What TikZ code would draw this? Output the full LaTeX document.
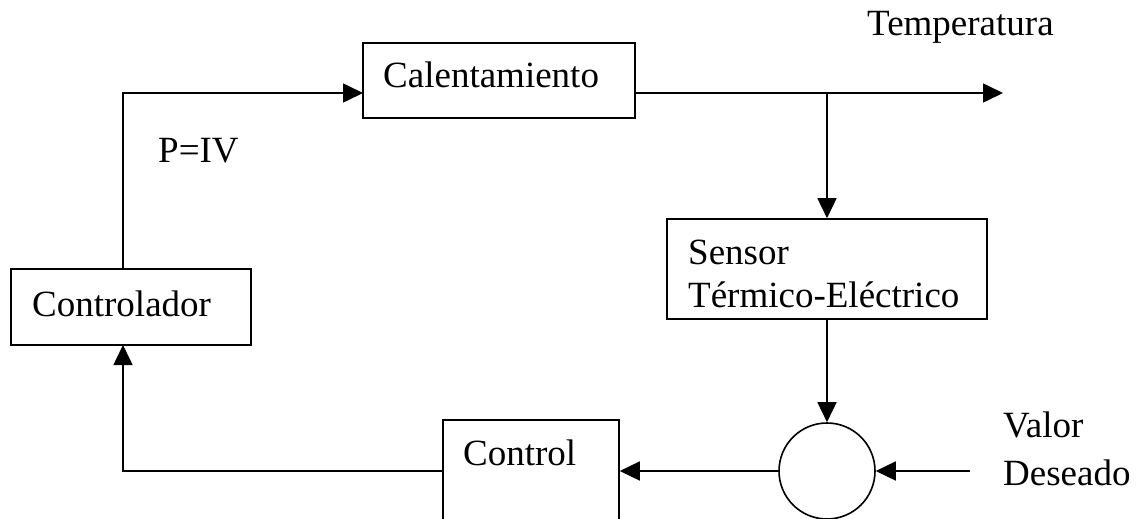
\documentclass[tikz,border=0pt]{standalone}
\usepackage{fontspec}
\setmainfont{Liberation Serif}
\usetikzlibrary{arrows.meta,calc}
\begin{document}
\begin{tikzpicture}[x=1pt,y=-1pt,
  box/.style={draw,line width=1.6pt,inner sep=0pt},
  lbl/.style={inner sep=0pt,anchor=base west,font=\fontsize{37}{44}\selectfont},
  arr/.style={line width=1.6pt,-{Triangle[length=20pt,width=19pt]}},
  ln/.style={line width=1.6pt}]
\useasboundingbox (0,0) rectangle (1138,519);
\clip (0,0) rectangle (1138,519);
% boxes
\node[box,minimum width=272pt,minimum height=75pt] (cal) at (499,80.5) {};
\node[box,minimum width=240pt,minimum height=76pt] (ctrlr) at (131,307) {};
\node[box,minimum width=320pt,minimum height=100pt] (sens) at (827,269) {};
\node[box,minimum width=176pt,minimum height=140pt] (ctrl) at (531,490) {};
\node[box,circle,minimum size=96pt] (sum) at (827,471) {};
% texts
\node[lbl] (tcal) at (383,88) {Calentamiento};
\node[lbl] (ttemp) at (867,36) {Temperatura};
\node[lbl] (tp) at (158,162) {P=IV};
\node[lbl] (tsens1) at (688,264) {Sensor};
\node[lbl] (tsens2) at (688,307) {Térmico-Eléctrico};
\node[lbl] (tctrlr) at (32,316) {Controlador};
\node[lbl] (tctrl) at (463,465) {Control};
\node[lbl] (tval1) at (1003,437) {Valor};
\node[lbl] (tval2) at (1003,485) {Deseado};
% coordinates
\coordinate (up) at (123,269);
\coordinate (calin) at (363,93);
\coordinate (calout) at (635,93);
\coordinate (temp) at (1003,93);
\coordinate (br) at (827,93);
\coordinate (valin) at (970,471);
\coordinate (ctrlrin) at (123,345);
% connectors
\draw[arr] (up) |- (calin);
\draw[arr] (calout) -- (temp);
\draw[arr] (br) -- (sens.north);
\draw[arr] (sens.south) -- (sum.north);
\draw[arr] (valin) -- (sum.east);
\draw[arr] (sum.west) -- (ctrl.east |- sum.west);
\draw[arr] (ctrl.west |- sum.west) -| (ctrlrin);
\end{tikzpicture}
\end{document}
